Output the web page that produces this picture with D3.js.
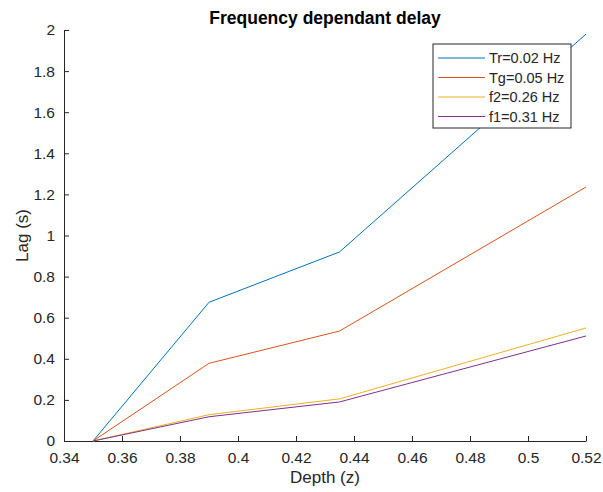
<!DOCTYPE html>
<html lang="en">
<head>
    <meta charset="UTF-8">
    <title>Frequency dependant delay</title>
    <style>
        body { margin: 0; background: #fff; }
        text { font-family: "Liberation Sans", Arial, sans-serif; fill: #262626; }
        .axis path, .axis line { stroke: #262626; }
        .axis text { font-size: 15.5px; }
    </style>
</head>
<body>
    <script src="https://d3js.org/d3.v7.min.js"></script>
    <script>
        const depth = [0.35, 0.39, 0.435, 0.52];
        const tr = [0, 0.675, 0.92, 1.98];
        const tg = [0, 0.378, 0.535, 1.236];
        const f2 = [0, 0.128, 0.205, 0.55];
        const f1 = [0, 0.118, 0.19, 0.511];
        const seriesNames = ["Tr=0.02 Hz", "Tg=0.05 Hz", "f2=0.26 Hz", "f1=0.31 Hz"];
        const colors = ["#0072BD", "#D95319", "#EDB120", "#7E2F8E"];
        const xTicks = [0.34, 0.36, 0.38, 0.4, 0.42, 0.44, 0.46, 0.48, 0.5, 0.52];
        const yTicks = [0, 0.2, 0.4, 0.6, 0.8, 1, 1.2, 1.4, 1.6, 1.8, 2];

        const W = 603, H = 492;
        const margin = { top: 30, right: 17, bottom: 51, left: 64 };
        const width = W - margin.left - margin.right,
            height = H - margin.top - margin.bottom;

        const svg = d3.select("body").append("svg")
            .attr("width", W).attr("height", H);

        const g = svg.append("g")
            .attr("transform", "translate(" + margin.left + "," + margin.top + ")");

        const x = d3.scaleLinear().domain([0.34, 0.52]).range([0, width]);
        const y = d3.scaleLinear().domain([0, 2]).range([height, 0]);

        // axes, ticks pointing inward like matlab
        const xAxis = g.append("g").attr("class", "axis")
            .attr("transform", "translate(0," + height + ")")
            .call(d3.axisBottom(x).tickValues(xTicks).tickSizeInner(-5).tickSizeOuter(0)
                .tickFormat(d => String(+d.toFixed(2))));
        xAxis.selectAll("text").attr("y", 11).attr("dy", "0.71em");

        const yAxis = g.append("g").attr("class", "axis")
            .call(d3.axisLeft(y).tickValues(yTicks).tickSizeInner(-5).tickSizeOuter(0)
                .tickFormat(d => String(+d.toFixed(1))));
        yAxis.selectAll("text").attr("x", -9);

        const all = [tr, tg, f2, f1];
        const line = d3.line().x((d, i) => x(depth[i])).y(d => y(d));

        g.selectAll(".series")
            .data(all)
            .enter().append("path")
            .attr("class", "series")
            .attr("fill", "none")
            .attr("stroke", (d, i) => colors[i])
            .attr("stroke-width", 1)
            .attr("d", line);

        // title and labels
        svg.append("text")
            .attr("x", margin.left + width / 2).attr("y", 24)
            .attr("text-anchor", "middle")
            .style("font-size", "17.5px").style("font-weight", "bold")
            .style("fill", "#000")
            .text("Frequency dependant delay");

        svg.append("text")
            .attr("x", margin.left + width / 2).attr("y", 483)
            .attr("text-anchor", "middle")
            .style("font-size", "17px")
            .text("Depth (z)");

        svg.append("text")
            .attr("transform", "translate(28," + (margin.top + height / 2) + ") rotate(-90)")
            .attr("text-anchor", "middle")
            .style("font-size", "17px")
            .text("Lag (s)");

        // legend
        const legend = svg.append("g").attr("transform", "translate(433,44)");
        legend.append("rect")
            .attr("width", 138).attr("height", 84)
            .attr("fill", "#fff").attr("stroke", "#262626").attr("stroke-width", 1);

        const item = legend.selectAll(".item")
            .data(seriesNames)
            .enter().append("g")
            .attr("transform", (d, i) => "translate(0," + (14 + i * 19.5) + ")");
        item.append("line")
            .attr("x1", 5).attr("x2", 52)
            .attr("stroke", (d, i) => colors[i]).attr("stroke-width", 1);
        item.append("text")
            .attr("x", 56).attr("dy", "0.35em")
            .style("font-size", "14.5px")
            .text(d => d);
    </script>
</body>
</html>
